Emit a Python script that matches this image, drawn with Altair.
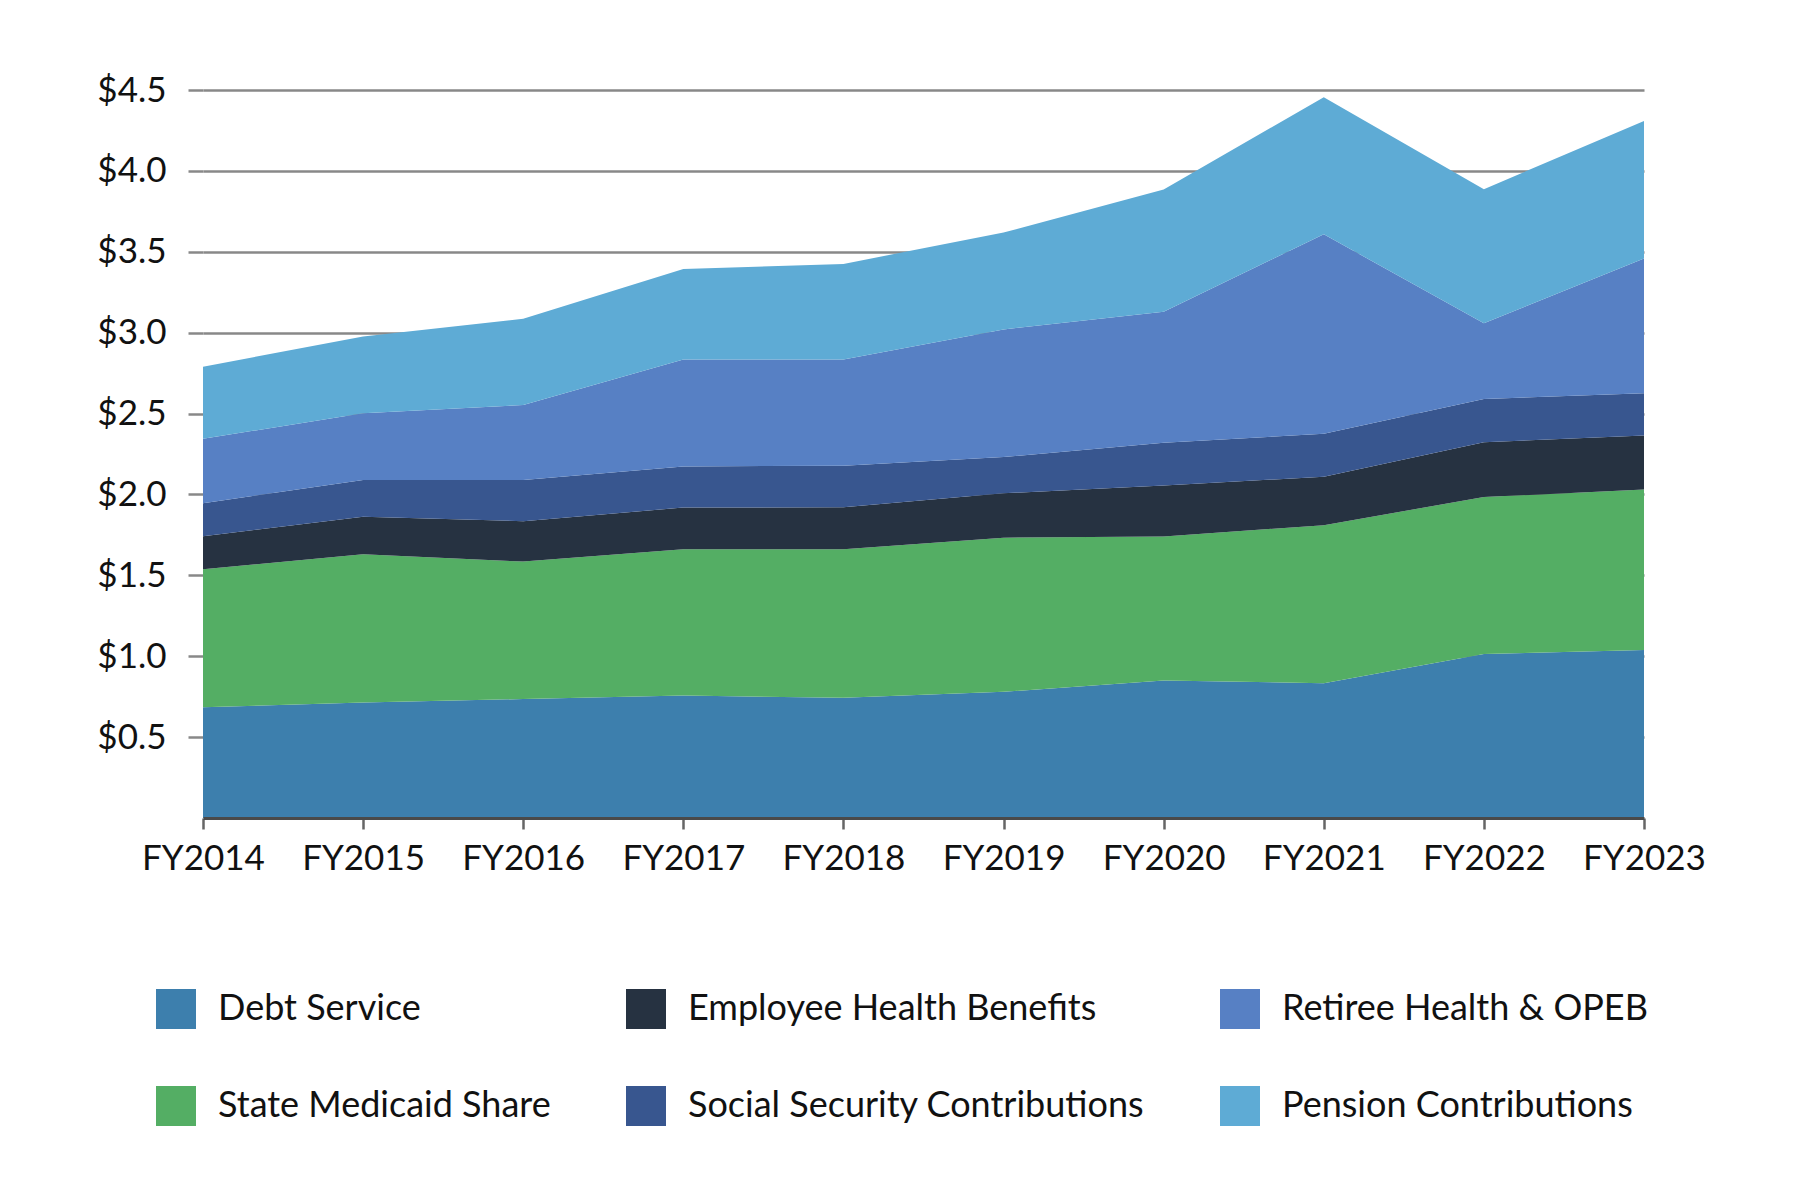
import altair as alt
import pandas as pd

years = ["FY2014", "FY2015", "FY2016", "FY2017", "FY2018",
         "FY2019", "FY2020", "FY2021", "FY2022", "FY2023"]

debt_service = [0.685, 0.714, 0.735, 0.757, 0.743, 0.780, 0.850, 0.833, 1.014, 1.039]
state_medicaid = [0.853, 0.916, 0.850, 0.904, 0.918, 0.953, 0.890, 0.977, 0.970, 0.992]
employee_health = [0.203, 0.232, 0.250, 0.258, 0.260, 0.274, 0.315, 0.300, 0.339, 0.333]
social_security = [0.205, 0.228, 0.255, 0.254, 0.257, 0.224, 0.265, 0.265, 0.267, 0.262]
retiree_health = [0.398, 0.412, 0.463, 0.661, 0.656, 0.789, 0.810, 1.233, 0.468, 0.833]
pension = [0.446, 0.475, 0.533, 0.560, 0.591, 0.599, 0.755, 0.847, 0.829, 0.850]

series_names = ["Debt Service", "State Medicaid Share", "Employee Health Benefits",
                "Social Security Contributions", "Retiree Health & OPEB",
                "Pension Contributions"]
series_values = [debt_service, state_medicaid, employee_health,
                 social_security, retiree_health, pension]
series_colors = ["#3d7fad", "#54ae64", "#263241", "#38568f", "#5780c4", "#5eabd5"]

rows = []
for i, (name, vals) in enumerate(zip(series_names, series_values)):
    for y, v in zip(years, vals):
        rows.append({"year": y, "series": name, "value": v, "stack": i})
df = pd.DataFrame(rows)

FONT = "Lato"

chart = alt.Chart(df).mark_area(opacity=1, strokeWidth=0).encode(
    x=alt.X("year:O", sort=years, title=None,
            scale=alt.Scale(type="point", padding=0),
            axis=alt.Axis(labelAngle=0, labelFontSize=35, labelFont=FONT,
                          labelColor="#111111", labelPadding=12,
                          domainColor="#4a4a4a", domainWidth=3,
                          tickColor="#666666", tickWidth=2.5, tickSize=11,
                          zindex=1, grid=False)),
    y=alt.Y("value:Q", stack="zero", title=None,
            scale=alt.Scale(domain=[0, 4.5], nice=False),
            axis=alt.Axis(values=[0.5, 1.0, 1.5, 2.0, 2.5, 3.0, 3.5, 4.0, 4.5],
                          labelExpr="'$' + format(datum.value, '.1f')",
                          labelFontSize=35, labelFont=FONT, labelColor="#111111",
                          labelPadding=22, domain=False,
                          tickColor="#888888", tickWidth=2.5, tickSize=15,
                          grid=True, gridColor="#888888", gridWidth=2.5,
                          zindex=0)),
    color=alt.Color("series:N",
                    scale=alt.Scale(domain=series_names, range=series_colors),
                    legend=alt.Legend(title=None, orient="none", legendX=-47,
                                      legendY=899, columns=3, symbolType="square",
                                      symbolSize=1600, symbolStrokeWidth=0,
                                      symbolOpacity=1, labelFontSize=36,
                                      labelFont=FONT, labelColor="#111111",
                                      labelOffset=22, columnPadding=75,
                                      rowPadding=57, labelLimit=800)),
    order=alt.Order("stack:Q", sort="ascending"),
).properties(
    width=1441, height=728,
    background="white",
    autosize=alt.AutoSizeParams(type="none"),
    padding={"left": 195, "top": 82, "right": 140, "bottom": 360},
).configure_view(stroke=None, strokeWidth=0)

chart.save("out.html", embed_options={"renderer": "svg", "actions": False})
